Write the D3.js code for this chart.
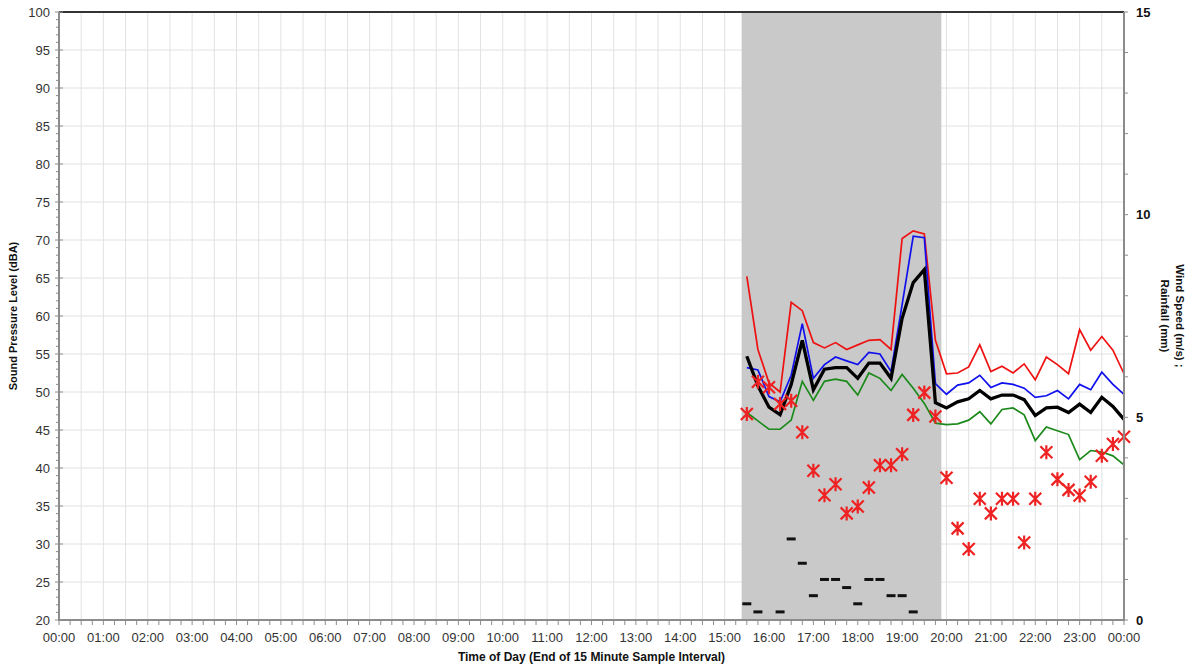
<!DOCTYPE html>
<html>
<head>
<meta charset="utf-8">
<script src="https://cdn.jsdelivr.net/npm/d3@7"></script>
<style>
  body { margin: 0; background: #fff; }
  svg { display: block; font-family: "Liberation Sans", Arial, sans-serif; }
</style>
</head>
<body>
<svg id="chart" width="1199" height="666"></svg>
<script>
// 15-minute sample intervals, time stamp = end of interval
const firstSample = "15:30";
const sampleMinutes = 15;

// Sound pressure levels (dBA)
const laMax = [65.2,55.6,51.2,50.0,61.8,60.7,56.5,55.8,56.5,55.6,56.2,56.8,56.9,55.6,70.2,71.2,70.8,56.8,52.4,52.5,53.3,56.2,52.7,53.4,52.5,53.7,51.6,54.6,53.6,52.4,58.2,55.5,57.3,55.5,52.4];
const la10  = [53.2,52.9,49.4,48.7,52.2,59.0,51.8,53.6,54.6,54.1,53.6,55.2,55.0,52.7,61.5,70.5,70.3,51.1,49.7,50.9,51.2,52.2,50.6,51.2,51.0,50.5,49.3,49.5,50.2,49.1,51.0,50.3,52.6,51.0,49.7];
const laEq  = [54.7,50.8,48.0,47.0,51.0,56.8,50.3,53.0,53.2,53.2,51.8,53.8,53.8,51.8,59.7,64.4,66.1,48.6,47.9,48.7,49.1,50.2,49.1,49.6,49.6,49.0,46.9,47.9,48.0,47.3,48.4,47.3,49.3,48.1,46.4];
const la90  = [47.3,46.2,45.1,45.1,46.3,51.4,48.9,51.4,51.7,51.4,49.6,52.5,51.8,50.2,52.3,50.5,48.5,45.9,45.7,45.8,46.3,47.4,45.8,47.7,47.9,47.0,43.6,45.4,44.9,44.4,41.1,42.3,42.1,41.6,40.4];

// Weather (right axis)
const windSpeed = [5.08,5.88,5.74,5.33,5.41,4.63,3.68,3.08,3.35,2.63,2.80,3.27,3.82,3.82,4.09,5.06,5.61,5.02,3.51,2.26,1.75,2.99,2.63,2.99,2.99,1.91,2.99,4.14,3.47,3.21,3.07,3.41,4.05,4.34,4.52];
const rainfall  = [0.4,0.2,0,0.2,2.0,1.4,0.6,1.0,1.0,0.8,0.4,1.0,1.0,0.6,0.6,0.2,0,0,0,0,0,0,0,0,0,0,0,0,0,0,0,0,0,0,0];

// Shaded period
const shadeFrom = "15:23";
const shadeTo = "19:53";

// Axis ticks
const hourLabels = d3.range(0, 25).map(h => String(h % 24).padStart(2, "0") + ":00");
const splTicks = d3.range(20, 101, 5);
const rightTicks = [0, 5, 10, 15];

const toHours = s => { const [h, m] = s.split(":").map(Number); return h + m / 60; };
const t0 = toHours(firstSample);
const times = laEq.map((_, i) => t0 + i * sampleMinutes / 60);

const svg = d3.select("#chart");
const L = 59, R = 1124, T = 12, B = 620;

const x = d3.scaleLinear().domain([0, 24]).range([L, R]);
const y = d3.scaleLinear().domain([20, 100]).range([B, T]);
const y2 = d3.scaleLinear().domain([0, 15]).range([B, T]);

// grid
const grid = svg.append("g");
grid.selectAll("line.v").data(d3.range(0.5, 24, 0.5)).join("line")
  .attr("x1", d => x(d)).attr("x2", d => x(d)).attr("y1", T).attr("y2", B)
  .attr("stroke", "#e2e2e2").attr("stroke-width", 1);
grid.selectAll("line.h").data(splTicks.slice(1, -1)).join("line")
  .attr("x1", L).attr("x2", R).attr("y1", d => y(d)).attr("y2", d => y(d))
  .attr("stroke", "#e2e2e2").attr("stroke-width", 1);

// shaded period
svg.append("rect")
  .attr("x", x(toHours(shadeFrom))).attr("y", T)
  .attr("width", x(toHours(shadeTo)) - x(toHours(shadeFrom))).attr("height", B - T)
  .attr("fill", "#c9c9c9");

// rainfall dashes
svg.append("g").selectAll("line").data(rainfall.map((v, i) => ({t: times[i], v})).filter(d => d.v > 0)).join("line")
  .attr("x1", d => x(d.t) - 4.5).attr("x2", d => x(d.t) + 4.5)
  .attr("y1", d => y2(d.v)).attr("y2", d => y2(d.v))
  .attr("stroke", "#111").attr("stroke-width", 3);

// level lines
const line = d3.line().x((d, i) => x(times[i])).y(d => y(d));
const series = [
  {data: la90, color: "#1b8a1b", w: 1.7},
  {data: laMax, color: "#ee1111", w: 1.7},
  {data: la10, color: "#1010ee", w: 1.7},
  {data: laEq, color: "#000", w: 3.3}
];
svg.append("g").selectAll("path").data(series).join("path")
  .attr("d", d => line(d.data))
  .attr("fill", "none").attr("stroke", d => d.color).attr("stroke-width", d => d.w)
  .attr("stroke-linejoin", "miter");

// wind speed markers
const star = "M-6,-6L6,6M-6,6L6,-6M0,-7L0,7";
svg.append("g").selectAll("path").data(windSpeed.map((v, i) => ({t: times[i], v}))).join("path")
  .attr("transform", d => `translate(${x(d.t)},${y2(d.v)})`)
  .attr("d", star).attr("fill", "none").attr("stroke", "#ee2222").attr("stroke-width", 2.2);

// axes
const axisColor = "#8c8c8c";
const ax = svg.append("g");
ax.append("line").attr("x1", L).attr("x2", R).attr("y1", T).attr("y2", T).attr("stroke", "#333").attr("stroke-width", 2);
ax.append("line").attr("x1", L).attr("x2", L).attr("y1", T).attr("y2", B + 1).attr("stroke", axisColor).attr("stroke-width", 2);
ax.append("line").attr("x1", R).attr("x2", R).attr("y1", T).attr("y2", B + 1).attr("stroke", axisColor).attr("stroke-width", 2);
ax.append("line").attr("x1", L).attr("x2", R).attr("y1", B).attr("y2", B).attr("stroke", axisColor).attr("stroke-width", 2);

// left ticks
ax.selectAll("line.lt").data(d3.range(20, 101, 1)).join("line")
  .attr("x1", d => d % 5 === 0 ? L - 4 : L - 3).attr("x2", d => d % 5 === 0 ? L + 4 : L)
  .attr("y1", d => y(d)).attr("y2", d => y(d))
  .attr("stroke", axisColor).attr("stroke-width", 1);
ax.selectAll("text.lt").data(splTicks).join("text")
  .attr("x", L - 9).attr("y", d => y(d)).attr("dy", "0.35em")
  .attr("text-anchor", "end").attr("font-size", 13).attr("fill", "#333")
  .text(d => d);

// right ticks
ax.selectAll("line.rt").data(d3.range(0, 16, 1)).join("line")
  .attr("x1", R).attr("x2", R + 4)
  .attr("y1", d => y2(d)).attr("y2", d => y2(d))
  .attr("stroke", axisColor).attr("stroke-width", 1);
ax.selectAll("text.rt").data(rightTicks).join("text")
  .attr("x", R + 12).attr("y", d => y2(d)).attr("dy", "0.35em")
  .attr("font-size", 13).attr("font-weight", "bold").attr("fill", "#111")
  .text(d => d);

// bottom ticks
ax.selectAll("line.bt").data(d3.range(0, 24.01, 0.25)).join("line")
  .attr("x1", d => x(d)).attr("x2", d => x(d))
  .attr("y1", B).attr("y2", B + 5)
  .attr("stroke", axisColor).attr("stroke-width", 1);
ax.selectAll("text.bt").data(hourLabels).join("text")
  .attr("x", (d, i) => x(i)).attr("y", 637).attr("dy", "0.35em")
  .attr("text-anchor", "middle").attr("font-size", 13).attr("fill", "#333")
  .text(d => d);

// axis titles
svg.append("text")
  .attr("transform", `translate(17,${(T + B) / 2}) rotate(-90)`)
  .attr("text-anchor", "middle").attr("font-size", 11).attr("font-weight", "bold").attr("fill", "#111")
  .text("Sound Pressure Level (dBA)");
svg.append("text")
  .attr("x", (L + R) / 2).attr("y", 661)
  .attr("text-anchor", "middle").attr("font-size", 12).attr("font-weight", "bold").attr("fill", "#111")
  .text("Time of Day (End of 15 Minute Sample Interval)");
const rt = svg.append("text")
  .attr("transform", `translate(1176,${(T + B) / 2}) rotate(90)`)
  .attr("text-anchor", "middle").attr("font-size", 11.5).attr("font-weight", "bold").attr("fill", "#111");
rt.append("tspan").attr("x", 0).attr("dy", 0).text("Wind Speed (m/s) ;");
rt.append("tspan").attr("x", 0).attr("dy", "1.3em").text("Rainfall (mm)");
</script>
</body>
</html>
